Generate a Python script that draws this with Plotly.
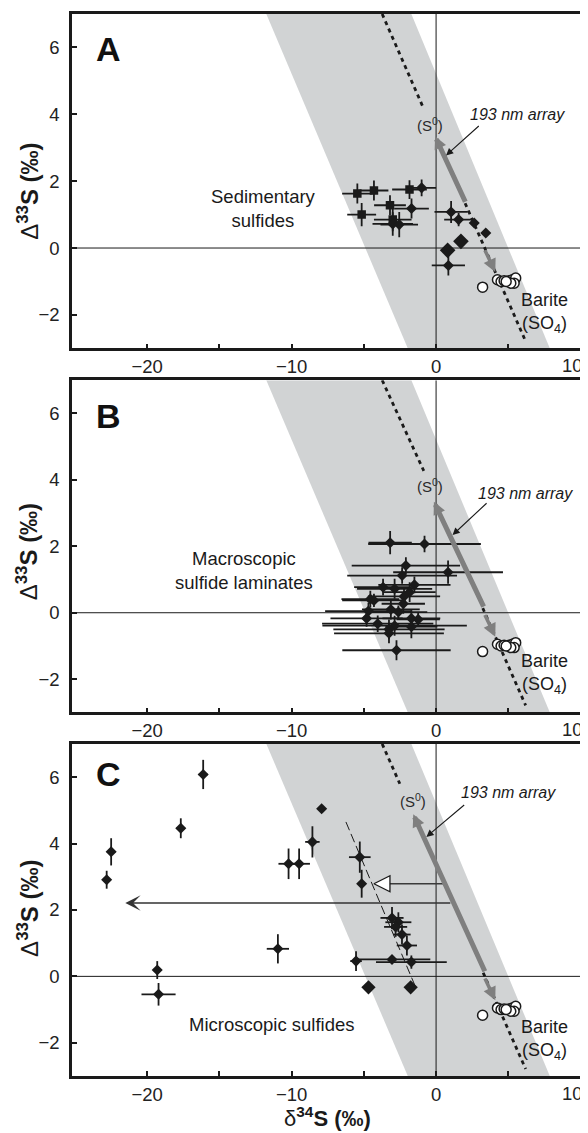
import plotly.graph_objects as go

FONT = "Liberation Sans, Arial, Helvetica, sans-serif"
INK = "#1a1a1a"
BAND_COLOR = "#d1d3d4"
ARROW_GREY = "#7f7f7f"

# ---------------- axes ----------------
X_RANGE = [-25.2, 10.1]
Y_RANGE = [-3, 7]
X_TICKS = [-20, -15, -10, -5, 0, 5, 10]
X_TICKTEXT = ["\u221220", "", "\u221210", "", "0", "", ""]
X_EDGE_LABEL = "10"          # right-most tick label, drawn flush with the figure edge
Y_TICKS = [-2, 0, 2, 4, 6]
Y_TICKTEXT = ["\u22122", "0", "2", "4", "6"]

# ---------------- shared features ----------------
BAND_X = [-11.75, -1.71, 7.87, -1.96]
BAND_Y = [7, 7, -3, -3]

BARITE_X = [3.22, 4.25, 4.5, 4.71, 5.05, 5.28, 5.51, 5.4, 5.17, 4.85]
BARITE_Y = [-1.17, -0.95, -1.0, -0.98, -0.98, -0.95, -0.9, -1.05, -1.05, -1.0]

# dotted S0-SO4 line (upper and lower visible parts), per panel
DOT_TOP_X = {"A": [-3.73, -0.92], "B": [-3.73, -0.85], "C": [-3.73, -2.51]}
DOT_TOP_Y = {"A": [7.0, 4.23], "B": [7.0, 4.27], "C": [7.0, 5.8]}
DOT_LOW_X = {"A": [2.01, 6.2], "B": [3.23, 6.2], "C": [3.26, 6.2]}
DOT_LOW_Y = {"A": [1.34, -2.79], "B": [0.14, -2.79], "C": [0.11, -2.79]}

# 193 nm array arrows (tail -> tip)
UP_TAIL_X = {"A": 2.07, "B": 3.34, "C": 3.42}
UP_TAIL_Y = {"A": 1.34, "B": 0.14, "C": 0.11}
UP_TIP_X = {"A": -0.07, "B": -0.15, "C": -1.58}
UP_TIP_Y = {"A": 3.34, "B": 3.34, "C": 4.88}
DOWN_TAIL = [3.33, -0.02]
DOWN_TIP = [4.1, -0.72]

# pointer from the "193 nm array" label
PTR_TAIL_X = {"A": 3.06, "B": 3.6, "C": 2.05}
PTR_TAIL_Y = {"A": 3.69, "B": 3.34, "C": 5.2}
PTR_TIP_X = {"A": 0.69, "B": 1.14, "C": -0.67}
PTR_TIP_Y = {"A": 2.77, "B": 2.34, "C": 4.2}
ARRAY_LABEL_X = {"A": 5.63, "B": 6.19, "C": 5.03}
ARRAY_LABEL_Y = {"A": 3.99, "B": 3.59, "C": 5.55}
S0_LABEL_X = {"A": -0.45, "B": -0.41, "C": -1.58}
S0_LABEL_Y = {"A": 3.69, "B": 3.84, "C": 5.3}
BARITE_LABEL_Y = {"A": -1.94, "B": -1.84, "C": -1.93}

# ---------------- panel A: sedimentary sulfides ----------------
A_SQ_X = [-5.45, -4.3, -1.84, -3.19, -5.15, -3.0]
A_SQ_Y = [1.63, 1.72, 1.75, 1.28, 1.0, 0.85]
A_SQ_XERR = [1.05, 1.0, 1.2, 1.1, 1.0, 1.3]
A_SQ_YERR = [0.3, 0.3, 0.28, 0.3, 0.35, 0.35]

A_DI_X = [-1.0, -1.7, -3.0, -2.55, 1.04, 1.56, 2.64, 3.44, 0.85]
A_DI_Y = [1.8, 1.18, 0.72, 0.7, 1.08, 0.85, 0.75, 0.45, -0.52]
A_DI_XERR = [1.0, 1.2, 1.4, 1.3, 1.15, 1.0, 0, 0, 1.15]
A_DI_YERR = [0.25, 0.3, 0.35, 0.38, 0.33, 0.2, 0, 0, 0.3]

A_BIG_X = [1.72, 0.8]
A_BIG_Y = [0.2, -0.07]

# ---------------- panel B: macroscopic sulfide laminates ----------------
B_X = [-3.18, -0.80, -2.09, 0.83, -2.35, -3.67, -2.87, -1.5, -1.83, -2.22, -4.55, -4.3, -2.27,
       -4.68, -3.13, -2.61, -4.81, -4.04, -2.87, -3.26, -3.26, -1.71, -1.24, -1.71, -2.74]
B_Y = [2.11, 2.07, 1.42, 1.22, 1.12, 0.77, 0.72, 0.84, 0.62, 0.49, 0.41, 0.37, 0.27,
       0.05, 0.1, 0.02, -0.17, -0.33, -0.39, -0.5, -0.62, -0.17, -0.2, -0.42, -1.13]
B_XERR = [1.5, 3.9, 3.75, 3.8, 3.8, 2.0, 2.6, 2.5, 1.8, 2.5, 2.0, 2.2, 1.5,
          3.0, 2.0, 2.0, 2.5, 3.85, 5.0, 3.85, 3.8, 2.0, 1.5, 1.8, 3.75]
B_YERR = [0.35, 0.25, 0.25, 0.35, 0.25, 0.25, 0.3, 0.25, 0.3, 0.25, 0.25, 0.2, 0.3,
          0.25, 0.3, 0.2, 0.25, 0.25, 0.3, 0.3, 0.3, 0.25, 0.2, 0.35, 0.3]

# ---------------- panel C: microscopic sulfides ----------------
C_X = [-16.12, -17.67, -22.49, -22.8, -7.92, -8.56, -10.21, -9.48, -10.95, -19.3, -19.21,
       -5.28, -5.15, -3.05, -2.61, -2.8, -2.36, -2.02, -5.54, -3.05, -1.71]
C_Y = [6.08, 4.46, 3.75, 2.91, 5.05, 4.05, 3.39, 3.39, 0.83, 0.19, -0.54,
       3.59, 2.79, 1.76, 1.63, 1.49, 1.26, 0.93, 0.46, 0.51, 0.43]
C_XERR = [0.3, 0.3, 0.3, 0.2, 0, 0.5, 0.7, 0.75, 0.77, 0.2, 1.18,
          0.75, 0.2, 0.8, 0.9, 0.8, 0.6, 0.7, 0.4, 2.65, 2.45]
C_YERR = [0.44, 0.3, 0.41, 0.27, 0, 0.47, 0.46, 0.46, 0.44, 0.27, 0.34,
          0.47, 0.42, 0.33, 0.3, 0.3, 0.3, 0.3, 0.3, 0, 0.2]
C_BIG_X = [-4.68, -1.76]
C_BIG_Y = [-0.33, -0.33]

C_TREND_X = [-6.24, -1.45]
C_TREND_Y = [4.65, -0.29]
C_LONG_TAIL = [1.09, 2.21]
C_LONG_TIP = [-21.51, 2.21]
C_OPEN_TAIL = [0.5, 2.79]
C_OPEN_TIP = [-4.3, 2.79]

PANEL_LETTER_X = -22.7
PANEL_LETTER_Y = {"A": 5.95, "B": 5.93, "C": 6.1}
YTITLE_Y = {"A": 1.69, "B": 1.83, "C": 2.04}

DOMAINS = {"A": [0.6852, 1.0], "B": [0.3424, 0.6551], "C": [0.0, 0.3127]}
REFS = {"A": ("x", "y"), "B": ("x2", "y2"), "C": ("x3", "y3")}

fig = go.Figure()
annotations = []


def txt(text, x, y, xr, yr, size=18, color=INK, **kw):
    d = dict(text=text, x=x, y=y, xref=xr, yref=yr, showarrow=False,
             font=dict(family=FONT, size=size, color=color),
             xanchor="center", yanchor="middle")
    d.update(kw)
    annotations.append(d)


def arrow(tail, tip, xr, yr, color, width, head, size):
    annotations.append(dict(text="", x=tip[0], y=tip[1], ax=tail[0], ay=tail[1],
                            xref=xr, yref=yr, axref=xr, ayref=yr, showarrow=True,
                            arrowhead=head, arrowsize=size, arrowwidth=width,
                            arrowcolor=color, standoff=0, startstandoff=0))


def errmarkers(x, y, xerr, yerr, xr, yr, symbol, size):
    fig.add_trace(go.Scatter(
        x=x, y=y, mode="markers", xaxis=xr, yaxis=yr,
        marker=dict(symbol=symbol, size=size, color=INK, line=dict(width=0)),
        error_x=dict(type="data", array=xerr, width=0, thickness=1.8, color=INK),
        error_y=dict(type="data", array=yerr, width=0, thickness=1.8, color=INK),
        hoverinfo="skip"))


for key in ["A", "B", "C"]:
    xr, yr = REFS[key]
    # grey band
    fig.add_trace(go.Scatter(x=BAND_X + [BAND_X[0]], y=BAND_Y + [BAND_Y[0]], mode="lines",
                             fill="toself", fillcolor=BAND_COLOR, line=dict(width=0),
                             xaxis=xr, yaxis=yr, hoverinfo="skip"))
    # reference lines at zero
    fig.add_trace(go.Scatter(x=X_RANGE, y=[0, 0], mode="lines", line=dict(color=INK, width=1),
                             xaxis=xr, yaxis=yr, hoverinfo="skip"))
    fig.add_trace(go.Scatter(x=[0, 0], y=Y_RANGE, mode="lines", line=dict(color=INK, width=1),
                             xaxis=xr, yaxis=yr, hoverinfo="skip"))
    # dotted line
    for lx, ly in [(DOT_TOP_X[key], DOT_TOP_Y[key]), (DOT_LOW_X[key], DOT_LOW_Y[key])]:
        fig.add_trace(go.Scatter(x=lx, y=ly, mode="lines",
                                 line=dict(color=INK, width=2.8, dash="4px,4px"),
                                 xaxis=xr, yaxis=yr, hoverinfo="skip"))

    if key == "A":
        errmarkers(A_SQ_X, A_SQ_Y, A_SQ_XERR, A_SQ_YERR, xr, yr, "square", 8.5)
        errmarkers(A_DI_X, A_DI_Y, A_DI_XERR, A_DI_YERR, xr, yr, "diamond", 8.5)
        fig.add_trace(go.Scatter(x=A_BIG_X, y=A_BIG_Y, mode="markers", xaxis=xr, yaxis=yr,
                                 marker=dict(symbol="diamond", size=12, color=INK), hoverinfo="skip"))
    elif key == "B":
        errmarkers(B_X, B_Y, B_XERR, B_YERR, xr, yr, "diamond", 8.5)
    else:
        fig.add_trace(go.Scatter(x=C_TREND_X, y=C_TREND_Y, mode="lines",
                                 line=dict(color=INK, width=1, dash="9px,4px"),
                                 xaxis=xr, yaxis=yr, hoverinfo="skip"))
        errmarkers(C_X, C_Y, C_XERR, C_YERR, xr, yr, "diamond", 8.5)
        fig.add_trace(go.Scatter(x=C_BIG_X, y=C_BIG_Y, mode="markers", xaxis=xr, yaxis=yr,
                                 marker=dict(symbol="diamond", size=11, color=INK), hoverinfo="skip"))
        # open-headed arrow
        fig.add_trace(go.Scatter(x=[C_OPEN_TAIL[0], C_OPEN_TIP[0] + 0.6],
                                 y=[C_OPEN_TAIL[1], C_OPEN_TIP[1]], mode="lines",
                                 line=dict(color="#3a3a3a", width=1.6),
                                 xaxis=xr, yaxis=yr, hoverinfo="skip"))
        fig.add_trace(go.Scatter(x=[C_OPEN_TIP[0]], y=[C_OPEN_TIP[1]], mode="markers",
                                 marker=dict(symbol="arrow-left", size=16, color="white",
                                             line=dict(color=INK, width=1.3)),
                                 xaxis=xr, yaxis=yr, hoverinfo="skip"))
        arrow(C_LONG_TAIL, C_LONG_TIP, xr, yr, "#333333", 1.6, 3, 1.6)

    # barite
    fig.add_trace(go.Scatter(x=BARITE_X, y=BARITE_Y, mode="markers", xaxis=xr, yaxis=yr,
                             marker=dict(symbol="circle", size=10, color="white",
                                         line=dict(color=INK, width=1.5)),
                             hoverinfo="skip"))

    # grey arrows
    arrow([UP_TAIL_X[key], UP_TAIL_Y[key]], [UP_TIP_X[key], UP_TIP_Y[key]], xr, yr,
          ARROW_GREY, 5, 2, 0.5)
    arrow(DOWN_TAIL, DOWN_TIP, xr, yr, ARROW_GREY, 3.5, 2, 0.75)
    # pointer arrow
    arrow([PTR_TAIL_X[key], PTR_TAIL_Y[key]], [PTR_TIP_X[key], PTR_TIP_Y[key]], xr, yr,
          INK, 1.1, 2, 1.3)

    # labels
    txt("<b>%s</b>" % key, PANEL_LETTER_X, PANEL_LETTER_Y[key], xr, yr, size=34, color="#111")
    txt("<i>193 nm array</i>", ARRAY_LABEL_X[key], ARRAY_LABEL_Y[key], xr, yr, size=16)
    txt("(S<sup>0</sup>)", S0_LABEL_X[key], S0_LABEL_Y[key], xr, yr, size=15, color="#2a2a2a")
    txt("Barite<br>(SO<sub>4</sub>)", 7.5, BARITE_LABEL_Y[key], xr, yr, size=18)
    txt("\u0394<b><sup>33</sup>S (\u2030)</b>", -0.0877, YTITLE_Y[key], "paper", yr,
        size=24, textangle=-90)
    # right-most x tick label, flush with the right figure edge
    txt(X_EDGE_LABEL, 1.0058, Y_RANGE[0], "paper", yr, size=18.5, color="#222",
        xanchor="right", yanchor="top", yshift=-5)

txt("Sedimentary<br>sulfides", -11.96, 1.17, "x", "y", size=18.5)
txt("Macroscopic<br>sulfide laminates", -13.27, 1.28, "x2", "y2", size=18.5)
txt("Microscopic sulfides", -11.35, -1.46, "x3", "y3", size=18.5)
txt("\u03b4<b><sup>34</sup>S (\u2030)</b>", 0.5, -0.0536, "paper", "paper", size=22,
    yanchor="bottom")


def xaxis_style(anchor):
    return dict(domain=[0, 1], anchor=anchor, range=X_RANGE, showgrid=False, zeroline=False,
                showline=True, linecolor=INK, linewidth=2.5, mirror=True,
                ticks="inside", ticklen=5, tickwidth=2, tickcolor=INK,
                tickmode="array", tickvals=X_TICKS, ticktext=X_TICKTEXT,
                tickfont=dict(family=FONT, size=18.5, color="#222"), ticklabelstandoff=0)


def yaxis_style(anchor, dom):
    return dict(domain=dom, anchor=anchor, range=Y_RANGE, showgrid=False, zeroline=False,
                showline=True, linecolor=INK, linewidth=2.5, mirror=True,
                ticks="inside", ticklen=5, tickwidth=2, tickcolor=INK,
                tickmode="array", tickvals=Y_TICKS, ticktext=Y_TICKTEXT,
                tickfont=dict(family=FONT, size=18.5, color="#222"), ticklabelstandoff=6)


# the page body adds an 8 px offset, so the figure is 8 px smaller and margins shifted
fig.update_layout(
    width=580, height=1125,
    margin=dict(l=64, r=3, t=4, b=57),
    paper_bgcolor="white", plot_bgcolor="white",
    showlegend=False,
    font=dict(family=FONT, color=INK),
    xaxis=xaxis_style("y"), yaxis=yaxis_style("x", DOMAINS["A"]),
    xaxis2=xaxis_style("y2"), yaxis2=yaxis_style("x2", DOMAINS["B"]),
    xaxis3=xaxis_style("y3"), yaxis3=yaxis_style("x3", DOMAINS["C"]),
    annotations=annotations,
)

fig.write_html("out.html")
